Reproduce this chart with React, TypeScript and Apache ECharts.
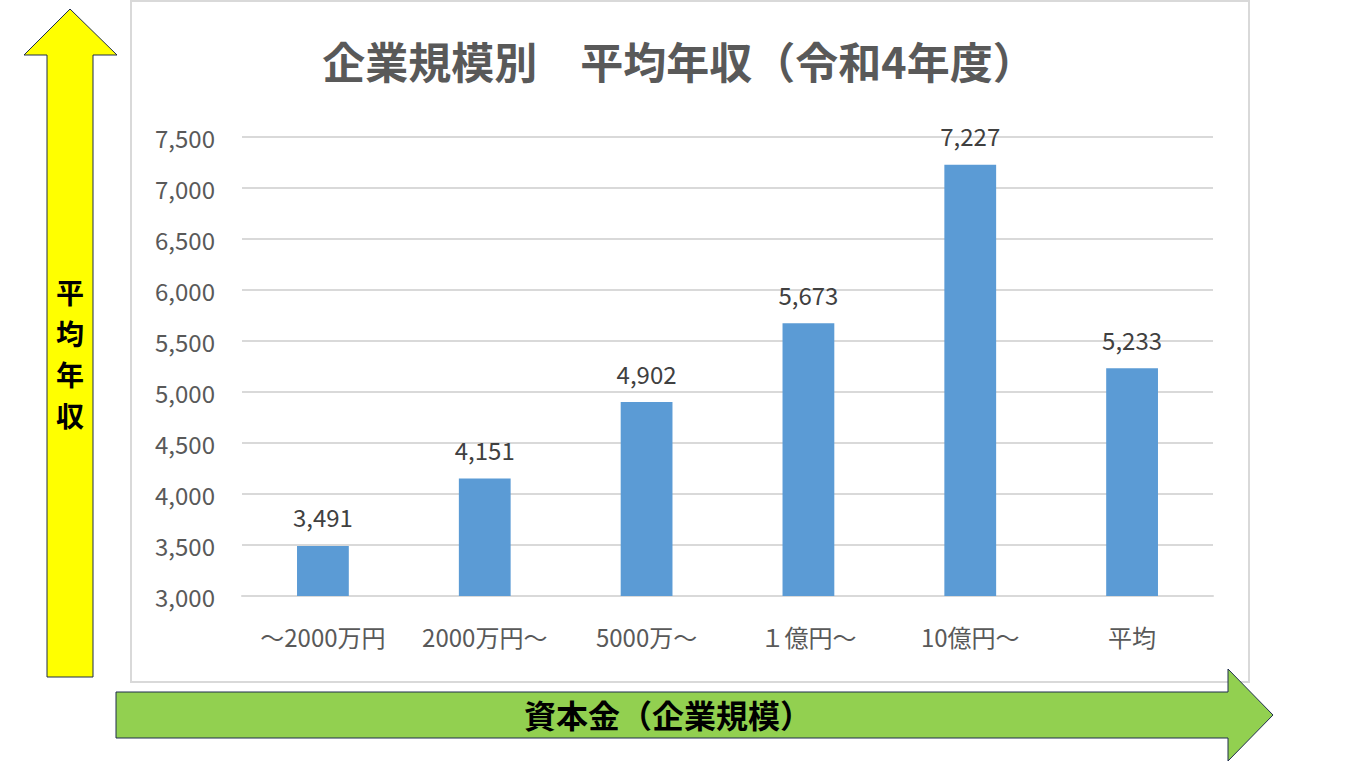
import React, { useEffect, useRef } from "react";
import * as echarts from "echarts";

const categories = ["～2000万円", "2000万円～", "5000万～", "１億円～", "10億円～", "平均"];
const incomeValues = [3491, 4151, 4902, 5673, 7227, 5233];
const titleText = "企業規模別　平均年収（令和4年度）";
const yArrowChars = ["平", "均", "年", "収"];
const xArrowText = "資本金（企業規模）";

const FONT = "'Noto Sans CJK JP', 'Noto Sans', sans-serif";

export default function App() {
  const ref = useRef<HTMLDivElement>(null);
  useEffect(() => {
    if (!ref.current) return;
    const chart = echarts.init(ref.current, undefined, { renderer: "svg" });
    const yArrowTexts = yArrowChars.map((c, i) => ({
      type: "text",
      x: 70,
      y: 292 + i * 41,
      style: {
        text: c,
        fill: "#000000",
        font: `bold 28px ${FONT}`,
        lineHeight: 30,
        align: "center",
        verticalAlign: "middle",
      },
    }));
    chart.setOption({
      animation: false,
      backgroundColor: "#ffffff",
      textStyle: { fontFamily: FONT },
      grid: { left: 242, right: 152, top: 137, bottom: 172, containLabel: false },
      xAxis: {
        type: "category",
        data: categories,
        axisLine: { show: true, lineStyle: { color: "#d9d9d9", width: 2 } },
        axisTick: { show: false },
        axisLabel: { color: "#595959", fontSize: 24, margin: 28, interval: 0, fontFamily: FONT },
      },
      yAxis: {
        type: "value",
        min: 3000,
        max: 7500,
        interval: 500,
        axisLine: { show: false },
        axisTick: { show: false },
        splitLine: { lineStyle: { color: "#d9d9d9", width: 2 } },
        axisLabel: {
          color: "#595959",
          fontSize: 24,
          margin: 27,
          fontFamily: FONT,
          formatter: (v: number) => v.toLocaleString("en-US"),
        },
      },
      series: [
        {
          type: "bar",
          data: incomeValues,
          barWidth: "32%",
          itemStyle: { color: "#5b9bd5" },
          label: {
            show: true,
            position: "top",
            distance: 17,
            color: "#404040",
            fontSize: 24,
            fontFamily: FONT,
            formatter: (p: any) => Number(p.value).toLocaleString("en-US"),
          },
        },
      ],
      graphic: [
        {
          type: "rect",
          z: -10,
          shape: { x: 131, y: 1, width: 1118, height: 681 },
          style: { fill: "none", stroke: "#d9d9d9", lineWidth: 2 },
        },
        {
          type: "text",
          x: 679,
          y: 60,
          style: {
            text: titleText,
            fill: "#595959",
            font: `bold 43px ${FONT}`,
            align: "center",
            verticalAlign: "middle",
          },
        },
        {
          type: "polygon",
          shape: {
            points: [[47, 677], [47, 55], [24, 55], [70, 9], [117, 55], [93, 55], [93, 677]],
          },
          style: { fill: "#ffff00", stroke: "#1f2d4d", lineWidth: 1 },
        },
        ...yArrowTexts,
        {
          type: "polygon",
          shape: {
            points: [[116, 692], [1228, 692], [1228, 669], [1273, 715], [1228, 761], [1228, 738], [116, 738]],
          },
          style: { fill: "#92d050", stroke: "#1f2d4d", lineWidth: 1 },
        },
        {
          type: "text",
          x: 668,
          y: 714,
          style: {
            text: xArrowText,
            fill: "#000000",
            font: `bold 32px ${FONT}`,
            align: "center",
            verticalAlign: "middle",
          },
        },
      ],
    });
    return () => chart.dispose();
  }, []);
  return (
    <div
      ref={ref}
      style={{ position: "absolute", left: 0, top: 0, width: 1365, height: 768 }}
    />
  );
}
